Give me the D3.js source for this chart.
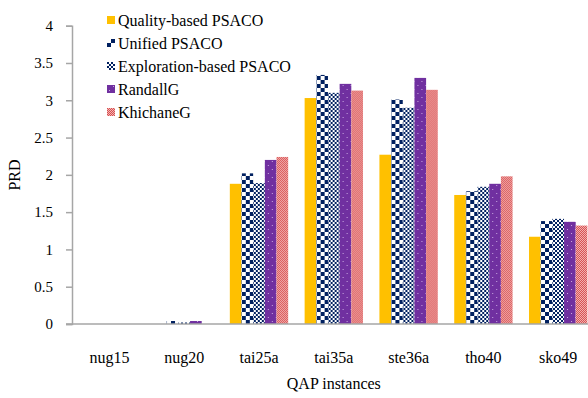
<!DOCTYPE html>
<html>
<head>
<meta charset="utf-8">
<script src="https://cdn.jsdelivr.net/npm/d3@7"></script>
<style>
  body { margin: 0; background: #fff; }
</style>
</head>
<body>
<script>
// data
var categories = ["nug15", "nug20", "tai25a", "tai35a", "ste36a", "tho40", "sko49"];
var seriesNames = ["Quality-based PSACO", "Unified PSACO", "Exploration-based PSACO", "RandallG", "KhichaneG"];
var quality     = [0, 0,    1.88, 3.03, 2.27, 1.73, 1.17];
var unified     = [0, 0.04, 2.02, 3.34, 3.01, 1.78, 1.38];
var exploration = [0, 0.02, 1.89, 3.10, 2.90, 1.84, 1.41];
var randall     = [0, 0.04, 2.20, 3.22, 3.30, 1.88, 1.37];
var khichane    = [0, 0,    2.24, 3.13, 3.14, 1.98, 1.32];
var yTicks = [0, 0.5, 1, 1.5, 2, 2.5, 3, 3.5, 4];

var allValues = [quality, unified, exploration, randall, khichane];
var serif = "'Liberation Serif', 'Times New Roman', 'DejaVu Serif', serif";

var width = 588, height = 398;
var svg = d3.select("body").append("svg")
    .attr("width", width)
    .attr("height", height)
    .style("font-family", serif);

// patterns to mimic the excel fills
var defs = svg.append("defs");

var pUni = defs.append("pattern").attr("id", "pUni")
    .attr("patternUnits", "userSpaceOnUse").attr("width", 8).attr("height", 8);
pUni.append("rect").attr("width", 8).attr("height", 8).attr("fill", "#fff");
pUni.append("rect").attr("width", 4).attr("height", 4).attr("fill", "#002060");
pUni.append("rect").attr("x", 4).attr("y", 4).attr("width", 4).attr("height", 4).attr("fill", "#002060");

var pExp = defs.append("pattern").attr("id", "pExp")
    .attr("patternUnits", "userSpaceOnUse").attr("width", 4).attr("height", 4);
pExp.append("rect").attr("width", 4).attr("height", 4).attr("fill", "#fff");
pExp.append("rect").attr("width", 2).attr("height", 2).attr("fill", "#002060");
pExp.append("rect").attr("x", 2).attr("y", 2).attr("width", 2).attr("height", 2).attr("fill", "#002060");

var pRan = defs.append("pattern").attr("id", "pRan")
    .attr("patternUnits", "userSpaceOnUse").attr("width", 8).attr("height", 8);
pRan.append("rect").attr("width", 8).attr("height", 8).attr("fill", "#7030A0");
pRan.append("rect").attr("x", 2).attr("y", 1).attr("width", 1).attr("height", 1).attr("fill", "#C8A8E0");
pRan.append("rect").attr("x", 6).attr("y", 5).attr("width", 1).attr("height", 1).attr("fill", "#C8A8E0");

var pKhi = defs.append("pattern").attr("id", "pKhi")
    .attr("patternUnits", "userSpaceOnUse").attr("width", 2).attr("height", 2);
pKhi.append("rect").attr("width", 2).attr("height", 2).attr("fill", "#F2B4B4");
pKhi.append("rect").attr("width", 1).attr("height", 1).attr("fill", "#D85050");
pKhi.append("rect").attr("x", 1).attr("y", 1).attr("width", 1).attr("height", 1).attr("fill", "#D85050");

var fills = ["#FFC000", "url(#pUni)", "url(#pExp)", "url(#pRan)", "url(#pKhi)"];

var x = d3.scaleBand()
    .domain(categories)
    .range([72, 595.6])
    .paddingInner(0.22)
    .paddingOuter(0.11);

var x1 = d3.scaleBand()
    .domain(seriesNames)
    .range([0, x.bandwidth()]);

var y = d3.scaleLinear()
    .domain([0, 4])
    .range([324, 25.7]);

// y axis
var yAxis = svg.append("g")
    .attr("transform", "translate(72,0)")
    .call(d3.axisLeft(y).tickValues(yTicks).tickSize(6).tickPadding(13).tickFormat(d3.format("")));
yAxis.attr("font-family", null).attr("font-size", null);
yAxis.select(".domain").attr("stroke", "#a6a6a6").attr("stroke-width", 1.5);
yAxis.selectAll(".tick line").attr("stroke", "#a6a6a6").attr("stroke-width", 1.5);
yAxis.selectAll(".tick text")
    .style("font-family", serif)
    .style("font-size", "15px")
    .attr("fill", "#000");

// bars
var groups = svg.append("g").selectAll("g")
    .data(categories)
    .enter().append("g")
    .attr("transform", d => "translate(" + x(d) + ",0)");

groups.selectAll("rect")
    .data((c, i) => seriesNames.map((s, j) => ({ s: s, j: j, v: allValues[j][i] })))
    .enter().append("rect")
    .attr("x", d => x1(d.s))
    .attr("width", x1.bandwidth())
    .attr("y", d => y(d.v))
    .attr("height", d => y(0) - y(d.v))
    .attr("fill", d => fills[d.j]);

// x axis line
svg.append("line")
    .attr("x1", 66).attr("x2", 596)
    .attr("y1", y(0)).attr("y2", y(0))
    .attr("stroke", "#a6a6a6").attr("stroke-width", 1.5);

// category labels
svg.append("g").selectAll("text")
    .data(categories)
    .enter().append("text")
    .attr("x", d => x(d) + x.bandwidth() / 2)
    .attr("y", 363)
    .attr("text-anchor", "middle")
    .style("font-family", serif)
    .style("font-size", "16px")
    .text(d => d);

// axis titles
svg.append("text")
    .attr("x", (72 + 595.6) / 2)
    .attr("y", 389)
    .attr("text-anchor", "middle")
    .style("font-family", serif)
    .style("font-size", "16px")
    .text("QAP instances");

svg.append("text")
    .attr("transform", "translate(20,175) rotate(-90)")
    .attr("text-anchor", "middle")
    .style("font-family", serif)
    .style("font-size", "16px")
    .text("PRD");

// legend
var legend = svg.append("g").selectAll("g")
    .data(seriesNames)
    .enter().append("g")
    .attr("transform", (d, i) => "translate(107," + (20 + i * 23) + ")");

legend.append("rect")
    .attr("x", 0).attr("y", -4)
    .attr("width", 8).attr("height", 8)
    .attr("fill", (d, i) => fills[i]);

legend.append("text")
    .attr("x", 11)
    .attr("y", 5.5)
    .style("font-family", serif)
    .style("font-size", "16px")
    .text(d => d);
</script>
</body>
</html>
